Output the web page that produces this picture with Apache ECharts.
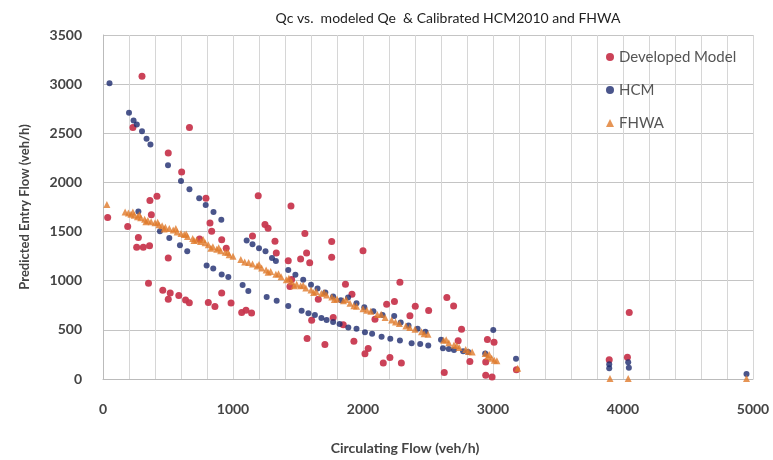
<!DOCTYPE html>
<html><head><meta charset="utf-8">
<script src="https://cdn.jsdelivr.net/npm/echarts@6/dist/echarts.min.js"></script>
<style>html,body{margin:0;padding:0;background:#fff}#c{width:773px;height:460px}</style>
</head><body><div id="c"></div>
<script>
const titleText = 'Qc vs.  modeled Qe  & Calibrated HCM2010 and FHWA';
const xName = 'Circulating Flow (veh/h)';
const yName = 'Predicted Entry Flow (veh/h)';
const seriesNames = ['Developed Model', 'HCM', 'FHWA'];

const developedModel = [[36,1643],[300,3080],[230,2560],[665,2560],[502,2300],[605,2107],[792,1838],[1194,1865],[361,1816],[415,1860],[372,1670],[190,1552],[272,1440],[259,1340],[310,1340],[358,1355],[502,1232],[823,1586],[836,1502],[743,1425],[913,1417],[948,1330],[1150,1455],[1246,1573],[1270,1535],[350,975],[460,902],[517,875],[502,811],[583,850],[635,805],[664,777],[810,778],[861,738],[913,874],[985,772],[1067,677],[1100,700],[1143,672],[1446,1760],[1553,1480],[1759,1398],[1323,1401],[1333,1283],[1759,1239],[2000,1306],[1566,1283],[1520,1220],[1590,1182],[1425,1204],[1451,1013],[1438,940],[1865,963],[1915,862],[1656,811],[1605,599],[1570,412],[1707,350],[1930,384],[2040,310],[2015,256],[2092,609],[2182,760],[2242,788],[2284,985],[2361,643],[2402,740],[2505,697],[2156,162],[2207,218],[2295,162],[2645,828],[2697,744],[2758,505],[2732,388],[2625,66],[2822,177],[2957,402],[3008,374],[2944,172],[2944,37],[2993,20],[3180,95],[3894,195],[4034,222],[4048,677],[1771,626],[1848,552]];

const hcm = [[50,3010],[200,2710],[235,2630],[260,2590],[300,2520],[335,2445],[365,2385],[500,2175],[600,2015],[665,1930],[740,1840],[790,1770],[850,1700],[910,1620],[1105,1410],[1150,1370],[1200,1330],[1250,1300],[1300,1230],[1330,1200],[1425,1110],[1480,1060],[1540,1010],[1600,960],[1650,920],[1710,880],[1770,840],[1830,800],[1885,828],[1950,770],[2010,730],[2080,690],[2150,650],[2240,640],[2290,575],[2350,545],[2420,510],[2480,480],[2600,400],[272,1704],[438,1502],[510,1434],[592,1360],[648,1300],[797,1154],[848,1124],[913,1064],[964,1037],[1074,956],[1118,896],[1259,835],[1336,795],[1425,744],[1528,694],[1580,670],[1630,650],[1680,620],[1720,600],[1770,580],[1820,560],[1887,525],[1950,510],[2015,475],[2070,460],[2143,431],[2210,410],[2284,391],[2374,364],[2440,355],[2502,341],[2615,313],[2660,305],[2700,295],[2770,283],[2810,275],[2940,260],[3002,498],[3177,207],[3894,150],[3894,110],[4040,170],[4045,115],[4950,50]];

const fhwa = [[30,1775],[170,1700],[195,1690],[215,1675],[240,1665],[265,1650],[290,1640],[320,1625],[345,1612],[370,1600],[400,1590],[430,1570],[455,1560],[480,1545],[510,1530],[540,1515],[570,1495],[600,1480],[625,1470],[650,1450],[690,1430],[720,1415],[750,1400],[785,1385],[810,1365],[845,1345],[875,1320],[905,1305],[940,1290],[970,1265],[1000,1250],[1060,1215],[1120,1185],[1150,1170],[1185,1150],[1220,1130],[1255,1110],[1290,1095],[1330,1065],[1370,1040],[1410,1010],[1450,990],[1490,965],[1520,950],[1560,925],[1600,905],[1640,890],[1680,870],[1720,855],[1760,835],[1800,815],[1850,795],[1900,770],[1950,740],[2000,715],[2060,690],[2110,655],[2170,625],[2220,600],[2280,565],[2330,540],[2400,505],[2450,480],[2500,455],[2620,395],[2660,370],[2700,345],[2740,320],[2790,300],[2840,275],[2940,260],[2960,230],[2990,210],[3030,185],[3190,110],[3900,5],[4040,5],[4950,5],
  [230,1700],[280,1670],[330,1600],[420,1595],[470,1525],[560,1530],[640,1475],[700,1410],[770,1420],[830,1330],[890,1335],[960,1290],[1090,1190],[1200,1165],[1270,1085],[1350,1070],[1430,1025],[1470,950],[1540,955],[1620,880],[1700,880],[1780,810],[1870,810],[1930,745],[2030,700],[2140,660],[2250,580],[2360,525],[2470,460],[2640,400],[2720,340],[2810,280],[2970,250],[3010,190]];

const xTicks = {min:0, max:5000, gridStep:200, labelStep:1000};
const yTicks = {min:0, max:3500, interval:500};

const font = 'Lato, "Open Sans", sans-serif';
const chart = echarts.init(document.getElementById('c'), null, {renderer:'canvas'});
chart.setOption({
  animation:false,
  backgroundColor:'#fff',
  textStyle:{fontFamily:font},
  title:{text:titleText, left:443, textAlign:'center', top:6,
    textStyle:{fontFamily:font, fontSize:14, fontWeight:'normal', color:'#222'}},
  legend:{orient:'vertical', left:601, top:44, itemGap:17, itemWidth:8, itemHeight:8,
    textStyle:{fontFamily:font, fontSize:15, color:'#555', lineHeight:16},
    data:[{name:seriesNames[0], icon:'circle'},{name:seriesNames[1], icon:'circle'},{name:seriesNames[2], icon:'triangle'}]},
  grid:{left:103, right:20, top:35, bottom:78, containLabel:false},
  xAxis:{type:'value', min:xTicks.min, max:xTicks.max, interval:xTicks.gridStep,
    name:xName, nameLocation:'middle', nameGap:62,
    nameTextStyle:{fontFamily:font, fontSize:14, fontWeight:'bold', color:'#444', padding:[0,46,0,0]},
    axisLine:{show:true, lineStyle:{color:'#bbb'}}, axisTick:{show:false},
    axisLabel:{margin:23, fontFamily:font, fontSize:14, fontWeight:'bold', color:'#444',
      formatter:v => (v % xTicks.labelStep === 0 ? String(v) : '')},
    splitLine:{show:true, lineStyle:{color:'#d6d6d6'}}},
  yAxis:{type:'value', min:yTicks.min, max:yTicks.max, interval:yTicks.interval,
    name:yName, nameLocation:'middle', nameGap:72, nameRotate:90,
    nameTextStyle:{fontFamily:font, fontSize:13, fontWeight:'bold', color:'#444'},
    axisLine:{show:true, lineStyle:{color:'#bbb'}}, axisTick:{show:false},
    axisLabel:{margin:21, fontFamily:font, fontSize:14, fontWeight:'bold', color:'#444',
      formatter:v => String(v)},
    splitLine:{show:true, lineStyle:{color:'#c4c4c4'}}},
  series:[
    {name:seriesNames[0], type:'scatter', data:developedModel, symbol:'circle', symbolSize:7,
      itemStyle:{color:'#c8384f', opacity:0.95}},
    {name:seriesNames[1], type:'scatter', data:hcm, symbol:'circle', symbolSize:6,
      itemStyle:{color:'#1d2a6e'}},
    {name:seriesNames[2], type:'scatter', data:fhwa, symbol:'triangle', symbolSize:7,
      itemStyle:{color:'#e07b2c'}}
  ]
});
</script></body></html>
